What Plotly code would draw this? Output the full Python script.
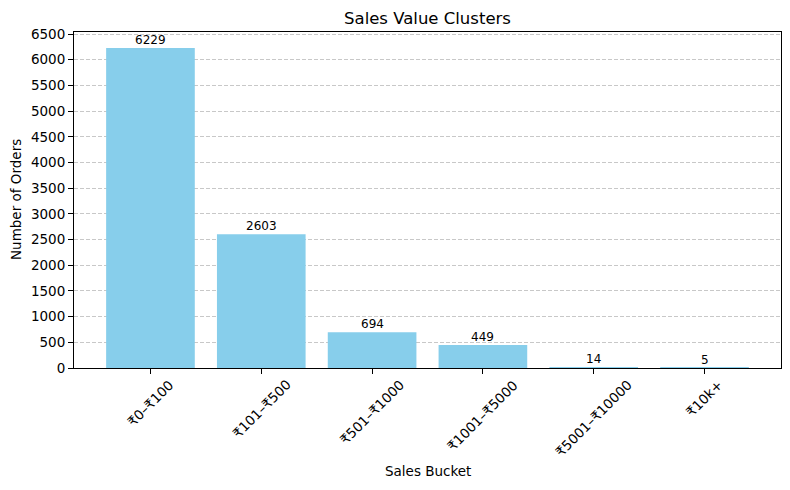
import plotly.graph_objects as go

categories = ["₹0–₹100", "₹101–₹500", "₹501–₹1000", "₹1001–₹5000", "₹5001–₹10000", "₹10k+"]
orders = [6229, 2603, 694, 449, 14, 5]
y_ticks = list(range(0, 6501, 500))

FONT = "DejaVu Sans"
x_idx = list(range(len(categories)))

# page body has an 8px default margin: compensate
W, H = 782, 482
L, R, T, B = 66, 9, 24, 122
PW = W - L - R

fig = go.Figure()
fig.add_trace(go.Bar(
    x=x_idx, y=orders, width=0.8,
    marker=dict(color="#87CEEB", line=dict(width=0)),
    cliponaxis=False,
))

for i, v in enumerate(orders):
    fig.add_annotation(
        x=i, y=v, xref="x", yref="y", yshift=-1,
        text=str(v), showarrow=False, xanchor="center", yanchor="bottom",
        font=dict(family=FONT, size=12, color="black"),
    )

for i, c in enumerate(categories):
    fig.add_annotation(
        x=i, y=0, xref="x", yref="paper", yshift=-6,
        text=c, textangle=-45, showarrow=False,
        xanchor="center", yanchor="top",
        font=dict(family=FONT, size=13.5, color="black"),
    )

fig.add_annotation(
    x=0.5, y=0, xref="paper", yref="paper", yshift=-103,
    text="Sales Bucket", showarrow=False, xanchor="center", yanchor="middle",
    font=dict(family=FONT, size=13.5, color="black"),
)
fig.add_annotation(
    x=(8 - L) / PW, y=0.5, xref="paper", yref="paper",
    text="Number of Orders", textangle=-90, showarrow=False,
    xanchor="center", yanchor="middle",
    font=dict(family=FONT, size=13.5, color="black"),
)

fig.update_layout(
    width=W, height=H,
    margin=dict(l=L, r=R, t=T, b=B),
    paper_bgcolor="white", plot_bgcolor="white",
    showlegend=False,
    font=dict(family=FONT, size=13.5, color="black"),
    title=dict(text="Sales Value Clusters", x=0.5, xref="paper", xanchor="center",
               y=1 - 10 / H, yanchor="middle",
               font=dict(family=FONT, size=16.5, color="black")),
)
fig.update_xaxes(
    range=[-0.69, 5.69], tickvals=x_idx, ticktext=[""] * len(categories),
    ticks="outside", ticklen=5, tickcolor="black",
    showline=True, linecolor="black", linewidth=1, mirror=True,
    showgrid=False, zeroline=False, automargin=False,
)
fig.update_yaxes(
    range=[0, 6540.45], tickvals=y_ticks,
    ticks="outside", ticklen=5, tickcolor="black",
    showline=True, linecolor="black", linewidth=1, mirror=True,
    showgrid=True, gridcolor="#c8c8c8", griddash="4px,2px", gridwidth=1,
    zeroline=False, automargin=False,
)
fig.write_html("out.html")
